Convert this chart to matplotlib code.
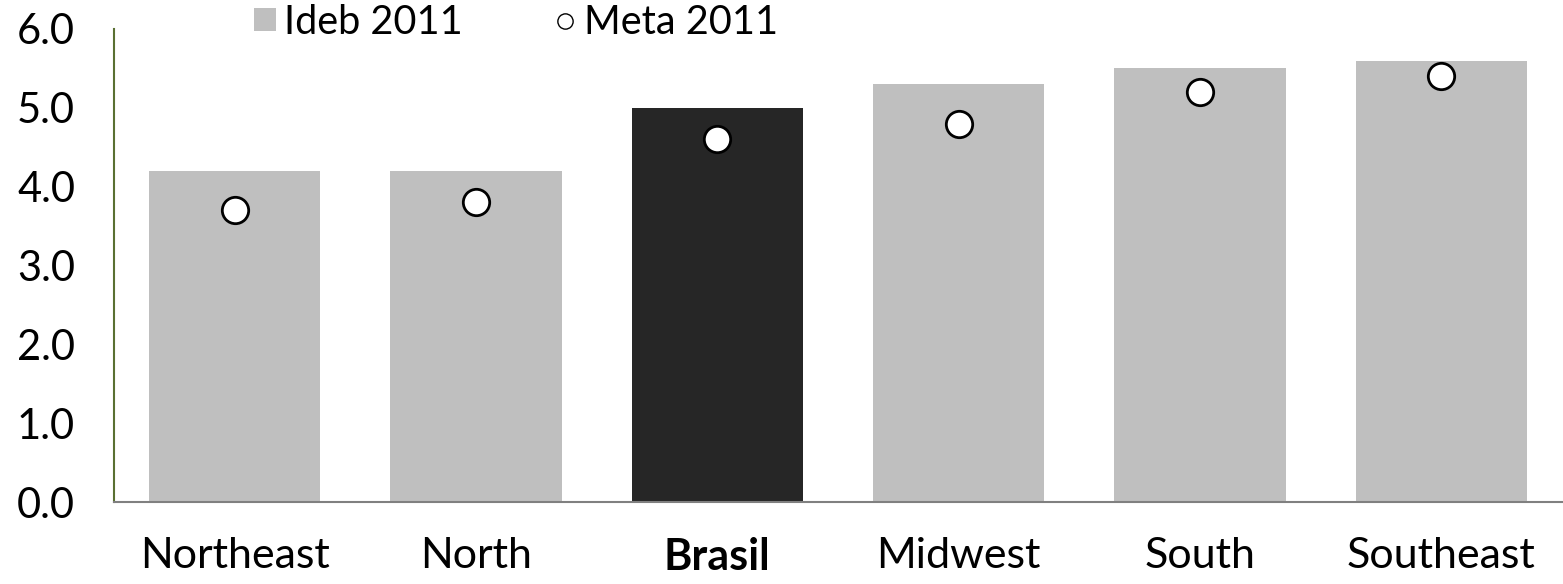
import matplotlib
matplotlib.use("Agg")
import matplotlib.pyplot as plt
from matplotlib.patches import Patch
from matplotlib.lines import Line2D

regions = ["Northeast", "North", "Brasil", "Midwest", "South", "Southeast"]
ideb_2011 = [4.2, 4.2, 5.0, 5.3, 5.5, 5.6]
meta_2011 = [3.7, 3.8, 4.6, 4.8, 5.2, 5.4]
y_ticks = [0.0, 1.0, 2.0, 3.0, 4.0, 5.0, 6.0]

plt.rcParams['font.family'] = ['Lato', 'DejaVu Sans']

fig = plt.figure(figsize=(15.63, 5.84), dpi=100)
ax = fig.add_axes([114 / 1563, 1 - 502 / 584, 1448 / 1563, 473 / 584])

bar_colors = ['#262626' if r == 'Brasil' else '#bfbfbf' for r in regions]
x = list(range(len(regions)))
ax.bar(x, ideb_2011, width=0.71, color=bar_colors, zorder=2)
ax.plot(x, meta_2011, linestyle='none', marker='o', markersize=19,
        markerfacecolor='white', markeredgecolor='black', markeredgewidth=2, zorder=3)

ax.set_xlim(-0.5, len(regions) - 0.5)
ax.set_ylim(0, 6)
ax.set_yticks(y_ticks)
ax.set_yticklabels([f"{v:.1f}" for v in y_ticks], fontsize=30)
ax.set_xticks(x)
ax.set_xticklabels(regions, fontsize=31)
for lab in ax.get_xticklabels():
    if lab.get_text() == 'Brasil':
        lab.set_fontweight('bold')
ax.tick_params(axis='y', length=0, pad=28)
ax.tick_params(axis='x', length=0, pad=25)

ax.spines['top'].set_visible(False)
ax.spines['right'].set_visible(False)
ax.spines['left'].set_color('#5a7032')
ax.spines['left'].set_linewidth(1.5)
ax.spines['bottom'].set_color('#808080')
ax.spines['bottom'].set_linewidth(1.5)

handles = [
    Patch(facecolor='#bfbfbf', edgecolor='none'),
    Line2D([], [], linestyle='none', marker='o', markersize=11,
           markerfacecolor='white', markeredgecolor='black', markeredgewidth=1),
]
fig.legend(handles, ['Ideb 2011', 'Meta 2011'], loc='center',
           bbox_to_anchor=(516 / 1563, 1 - 22 / 584), ncol=2, frameon=False,
           fontsize=28.5, handlelength=0.55, handleheight=0.55, handletextpad=0.2,
           columnspacing=2.3, borderpad=0)

fig.savefig('out.png', dpi=100)
